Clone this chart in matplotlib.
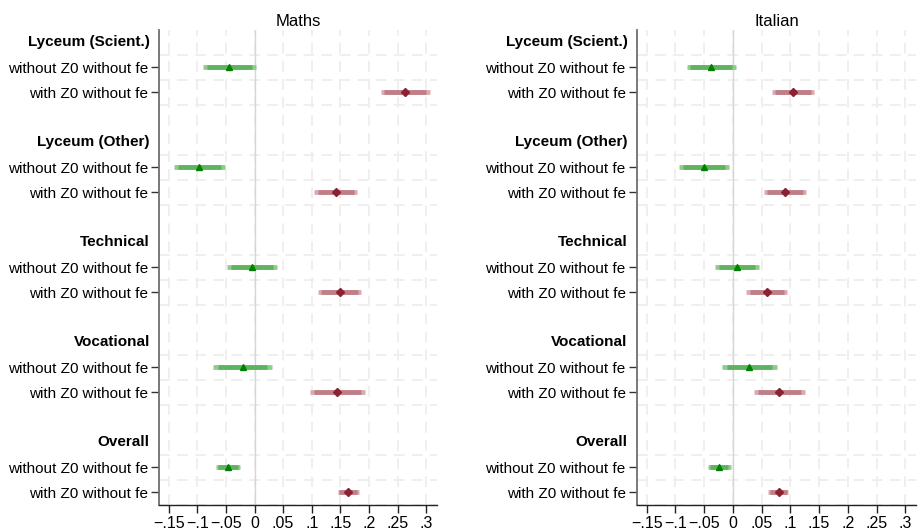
import numpy as np
import matplotlib
matplotlib.use("Agg")
import matplotlib.pyplot as plt
from matplotlib.transforms import blended_transform_factory

plt.rcParams['font.family'] = ['Liberation Sans', 'DejaVu Sans']

# groups and model specifications
groups = ["Lyceum (Scient.)", "Lyceum (Other)", "Technical", "Vocational", "Overall"]
models = ["without Z0 without fe", "with Z0 without fe"]

# Maths: point estimates, 95% and 90% intervals
maths_coef_wo = [-0.044, -0.0965, -0.0046, -0.021, -0.0467]
maths_lo95_wo = [-0.0907, -0.1409, -0.0479, -0.073, -0.067]
maths_hi95_wo = [0.003, -0.0514, 0.0393, 0.031, -0.025]
maths_lo90_wo = [-0.0834, -0.1341, -0.0412, -0.0647, -0.0643]
maths_hi90_wo = [-0.0046, -0.0589, 0.032, 0.0227, -0.0291]

maths_coef_w = [0.263, 0.142, 0.149, 0.145, 0.164]
maths_lo95_w = [0.2205, 0.104, 0.111, 0.0965, 0.1456]
maths_hi95_w = [0.3065, 0.1796, 0.187, 0.1937, 0.183]
maths_lo90_w = [0.2269, 0.1102, 0.1171, 0.1042, 0.1483]
maths_hi90_w = [0.2991, 0.1738, 0.1809, 0.1858, 0.1797]

# Italian
ital_coef_wo = [-0.038, -0.0507, 0.0069, 0.0287, -0.0242]
ital_lo95_wo = [-0.0806, -0.0939, -0.0306, -0.0185, -0.0426]
ital_hi95_wo = [0.0052, -0.0064, 0.0449, 0.076, -0.0041]
ital_lo90_wo = [-0.074, -0.0874, -0.0248, -0.011, -0.0404]
ital_hi90_wo = [-0.002, -0.014, 0.0386, 0.0684, -0.008]

ital_coef_w = [0.1046, 0.0908, 0.0587, 0.0811, 0.0794]
ital_lo95_w = [0.0684, 0.0546, 0.0235, 0.0368, 0.0615]
ital_hi95_w = [0.142, 0.1277, 0.0937, 0.1254, 0.096]
ital_lo90_w = [0.0737, 0.0601, 0.0292, 0.0439, 0.0649]
ital_hi90_w = [0.1355, 0.1215, 0.0882, 0.1183, 0.0939]

xticks = [-0.15, -0.1, -0.05, 0, 0.05, 0.1, 0.15, 0.2, 0.25, 0.3]


def stata_fmt(v):
    if abs(v) < 1e-12:
        return "0"
    s = ("%g" % abs(v)).lstrip("0")
    return ("\u2212" if v < 0 else "") + s


def draw_panel(ax, title, wo, w):
    n = len(groups)
    header_rows = np.arange(n) * 4
    rows_wo = header_rows + 1
    rows_w = header_rows + 2

    # background grid
    grid_kw = dict(color="#EEEEEE", lw=1.3, linestyle=(0, (6, 4)), zorder=0)
    for r in header_rows:
        for off in (0.5, 1.5, 2.5):
            ax.axhline(r + off, **grid_kw)
    for t in xticks:
        ax.axvline(t, **grid_kw)
    ax.axvline(0, color="#D6D6D6", lw=1.0, zorder=1)

    specs = [
        (rows_wo, wo, "#8DCC8D", "#5DB45D", "#008000", "^", 5),
        (rows_w, w, "#D9AAB0", "#BF7F88", "#8B2232", "D", 3.8),
    ]
    for rows, (coef, lo95, hi95, lo90, hi90), c_out, c_in, c_mk, mk, ms in specs:
        ax.hlines(rows, lo95, hi95, color=c_out, lw=3.4, zorder=2)
        ax.hlines(rows, lo90, hi90, color=c_in, lw=3.4, zorder=3)
        ax.plot(coef, rows, linestyle="none", marker=mk, ms=ms,
                color=c_mk, zorder=4)

    ax.set_xlim(-0.167, 0.319)
    ax.set_ylim(18.5, -0.5)
    ax.set_xticks(xticks)
    ax.set_xticklabels([stata_fmt(t) for t in xticks], fontsize=11.5)

    yt = np.sort(np.concatenate([rows_wo, rows_w]))
    ax.set_yticks(yt)
    ax.set_yticklabels([models[0], models[1]] * n, fontsize=11)

    trans = blended_transform_factory(ax.transAxes, ax.transData)
    for r, g in zip(header_rows, groups):
        ax.text(-0.033, r, g, transform=trans, ha="right", va="center",
                fontsize=11, fontweight="bold")

    for s in ("top", "right"):
        ax.spines[s].set_visible(False)
    ax.spines["left"].set_color("#6E6E6E")
    ax.spines["left"].set_linewidth(1.3)
    ax.spines["bottom"].set_color("#222222")
    ax.spines["bottom"].set_linewidth(1.0)
    ax.tick_params(axis="y", length=6, width=1, color="#333333", pad=2)
    ax.tick_params(axis="x", length=6, width=1, color="#222222", pad=2)
    ax.set_title(title, fontsize=12, pad=3)


fig = plt.figure(figsize=(9.19, 5.32), dpi=100)
ax1 = fig.add_axes([0.173, 0.051, 0.3025, 0.893])
ax2 = fig.add_axes([0.693, 0.051, 0.304, 0.893])

draw_panel(ax1, "Maths",
           (maths_coef_wo, maths_lo95_wo, maths_hi95_wo, maths_lo90_wo, maths_hi90_wo),
           (maths_coef_w, maths_lo95_w, maths_hi95_w, maths_lo90_w, maths_hi90_w))
draw_panel(ax2, "Italian",
           (ital_coef_wo, ital_lo95_wo, ital_hi95_wo, ital_lo90_wo, ital_hi90_wo),
           (ital_coef_w, ital_lo95_w, ital_hi95_w, ital_lo90_w, ital_hi90_w))

fig.savefig("out.png", dpi=100, facecolor="white")
